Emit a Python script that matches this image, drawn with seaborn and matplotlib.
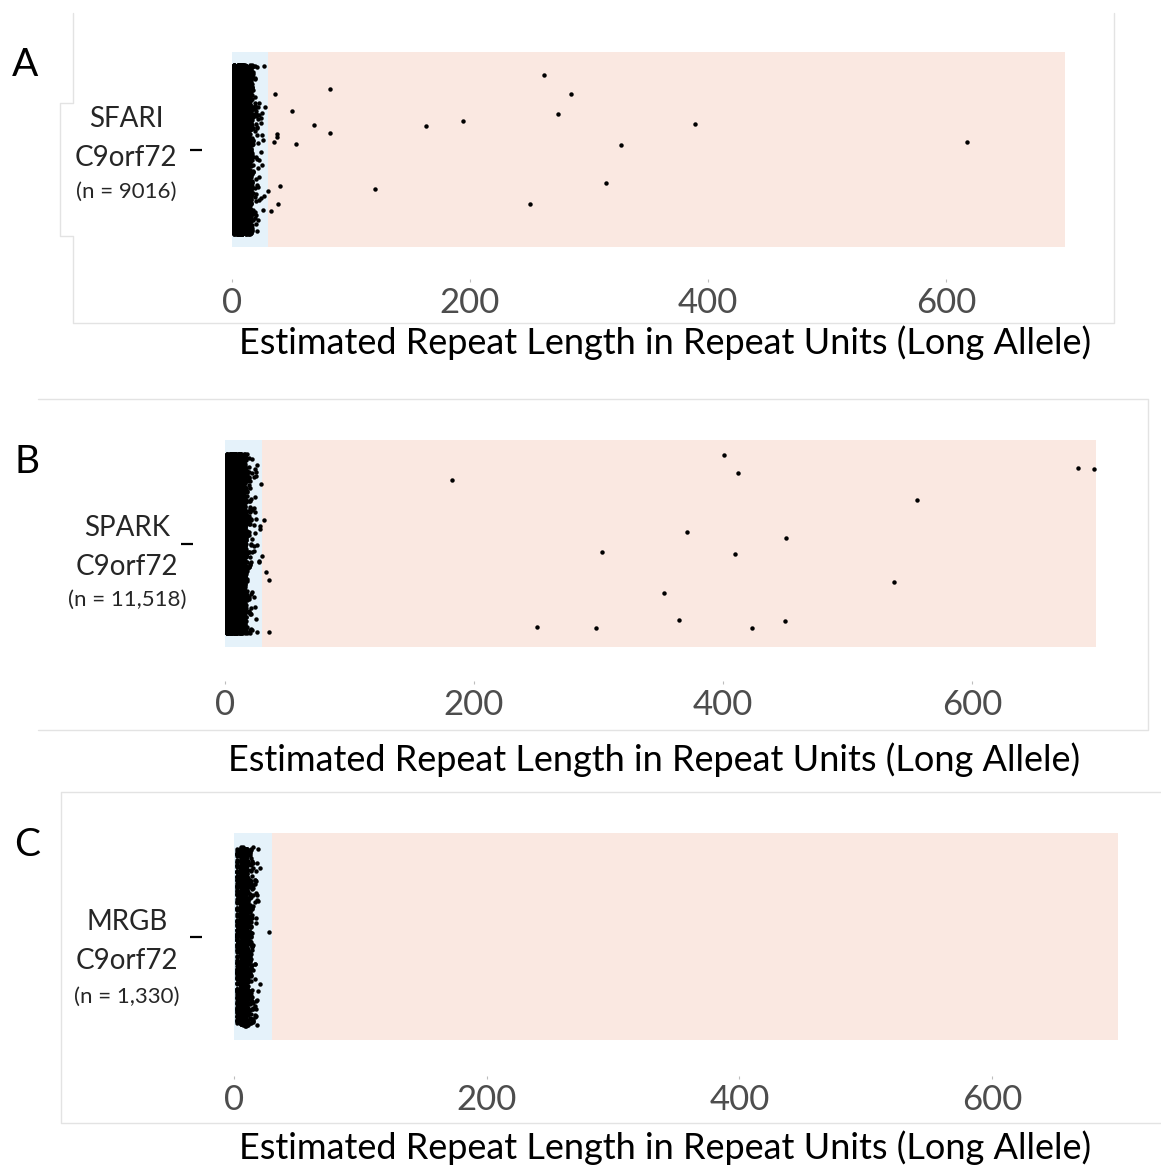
import numpy as np
import pandas as pd
import matplotlib
matplotlib.use("Agg")
import matplotlib.pyplot as plt
from matplotlib.lines import Line2D
from matplotlib.patches import Rectangle
import seaborn as sns

# Data
cohorts = ["SFARI", "SPARK", "MRGB"]
gene = "C9orf72"
n_labels = ["(n = 9016)", "(n = 11,518)", "(n = 1,330)"]
x_label = "Estimated Repeat Length in Repeat Units (Long Allele)"
x_ticks = [0, 200, 400, 600]
region_breaks = [0, 30, 700]          # normal range / expanded range
region_colors = ["#E5F2FA", "#FAE8E1"]

# bulk of the long-allele distribution (repeat length -> number of samples)
sfari_lengths = list(range(2, 29))
sfari_counts = [900, 150, 300, 1400, 900, 800, 1930, 700, 600, 420, 290, 190, 140,
                100, 60, 35, 22, 14, 10, 8, 6, 5, 4, 3, 2, 2, 1]
sfari_outliers = [30, 33, 35, 36, 38, 38, 39, 40, 50, 54, 69, 82, 82, 120, 163, 194,
                  250, 262, 274, 285, 314, 327, 389, 618]

spark_lengths = list(range(2, 30))
spark_counts = [1150, 190, 380, 1790, 1150, 1020, 2448, 900, 770, 540, 370, 245, 180,
                130, 80, 48, 30, 20, 14, 10, 8, 6, 5, 4, 3, 2, 2, 1]
spark_outliers = [30, 31, 33, 35, 35, 182, 251, 298, 303, 353, 365, 371, 401, 410, 412,
                  423, 450, 451, 537, 556, 685, 698]

mrgb_lengths = list(range(2, 21))
mrgb_counts = [140, 20, 40, 210, 130, 115, 289, 100, 85, 60, 45, 30, 22, 15, 10, 8, 5, 3, 2]
mrgb_outliers = [27]

bulk = [(sfari_lengths, sfari_counts, sfari_outliers),
        (spark_lengths, spark_counts, spark_outliers),
        (mrgb_lengths, mrgb_counts, mrgb_outliers)]

# Layout (pixel positions in the 1161x1168 canvas)
W, H = 1161, 1168
layout = [
    dict(letter="A", box=(190.4, 52, 1106.7, 279), rect_bottom=247, letter_xy=(25, 65),
         label_x=126, label_ys=(119, 158, 192), xlabel_xy=(665, 343)),
    dict(letter="B", box=(181.4, 440, 1140, 681), rect_bottom=647, letter_xy=(27, 462),
         label_x=127, label_ys=(528, 567, 600), xlabel_xy=(654, 760)),
    dict(letter="C", box=(190.3, 833, 1162.4, 1076), rect_bottom=1040, letter_xy=(27, 845),
         label_x=127, label_ys=(922, 961, 997), xlabel_xy=(665, 1148)),
]

sns.set_style("white")
plt.rcParams["font.family"] = ["Lato", "DejaVu Sans"]

fig = plt.figure(figsize=(W / 100, H / 100), dpi=100)


def fx(x):
    return x / W


def fy(y):
    return 1 - y / H


for i, (name, nlab, (lengths, counts, outliers), lay) in enumerate(
        zip(cohorts, n_labels, bulk, layout)):
    left, top, right, bottom = lay["box"]
    ax = fig.add_axes([fx(left), fy(bottom), fx(right) - fx(left), fy(top) - fy(bottom)])

    values = np.concatenate([np.repeat(lengths, counts), outliers])
    df = pd.DataFrame({"repeat": values, "cohort": name})

    # shaded regions
    for x0, x1, c in zip(region_breaks[:-1], region_breaks[1:], region_colors):
        ax.add_patch(Rectangle((x0, -0.6), x1 - x0, 1.2, facecolor=c,
                               edgecolor="none", zorder=0))

    np.random.seed(7 + i)
    sns.stripplot(data=df, x="repeat", y="cohort", jitter=0.52, size=3.2,
                  color="black", linewidth=0, ax=ax, zorder=2)

    unit_px = (lay["rect_bottom"] - top) / 1.2
    ax.set_ylim(0.6 + (bottom - lay["rect_bottom"]) / unit_px, -0.6)
    ax.set_xlim(-35, 735)
    sns.despine(ax=ax, left=True, bottom=True)
    ax.set_ylabel("")
    ax.set_xlabel("")
    ax.set_xticks(x_ticks)
    ax.set_xticklabels([str(t) for t in x_ticks])
    ax.set_yticks([0])
    ax.set_yticklabels([""])
    ax.tick_params(axis="x", length=2.5, width=0.8, color="#BDBDBD", pad=3,
                   labelsize=25, labelcolor="#4D4D4D", bottom=True)
    ax.tick_params(axis="y", direction="in", length=8.5, width=1.6, color="black", left=True)
    ax.set_facecolor("none")

    # axis title
    fig.text(fx(lay["xlabel_xy"][0]), fy(lay["xlabel_xy"][1]), x_label,
             ha="center", va="center", fontsize=26, color="black")
    # panel letter
    fig.text(fx(lay["letter_xy"][0]), fy(lay["letter_xy"][1]), lay["letter"],
             ha="center", va="center", fontsize=28, color="black")
    # category label
    lx = fx(lay["label_x"])
    fig.text(lx, fy(lay["label_ys"][0]), name, ha="center", va="center", fontsize=20)
    fig.text(lx, fy(lay["label_ys"][1]), gene, ha="center", va="center", fontsize=20)
    fig.text(lx, fy(lay["label_ys"][2]), nlab, ha="center", va="center", fontsize=16)

# light frames left from the pasted panels
frame_color = "#E3E3E3"
frames = [
    [(73, 13), (73, 103), (60, 103), (60, 236), (73, 236), (73, 323), (1114, 323), (1114, 13)],
    [(38, 399), (1148, 399), (1148, 730), (38, 730)],
    [(1161, 792), (61, 792), (61, 1123), (1161, 1123)],
]
for pts in frames:
    xs = [fx(p[0]) for p in pts]
    ys = [fy(p[1]) for p in pts]
    fig.add_artist(Line2D(xs, ys, color=frame_color, linewidth=1.0,
                          transform=fig.transFigure, zorder=0))

fig.savefig("out.png", dpi=100, facecolor="white")
